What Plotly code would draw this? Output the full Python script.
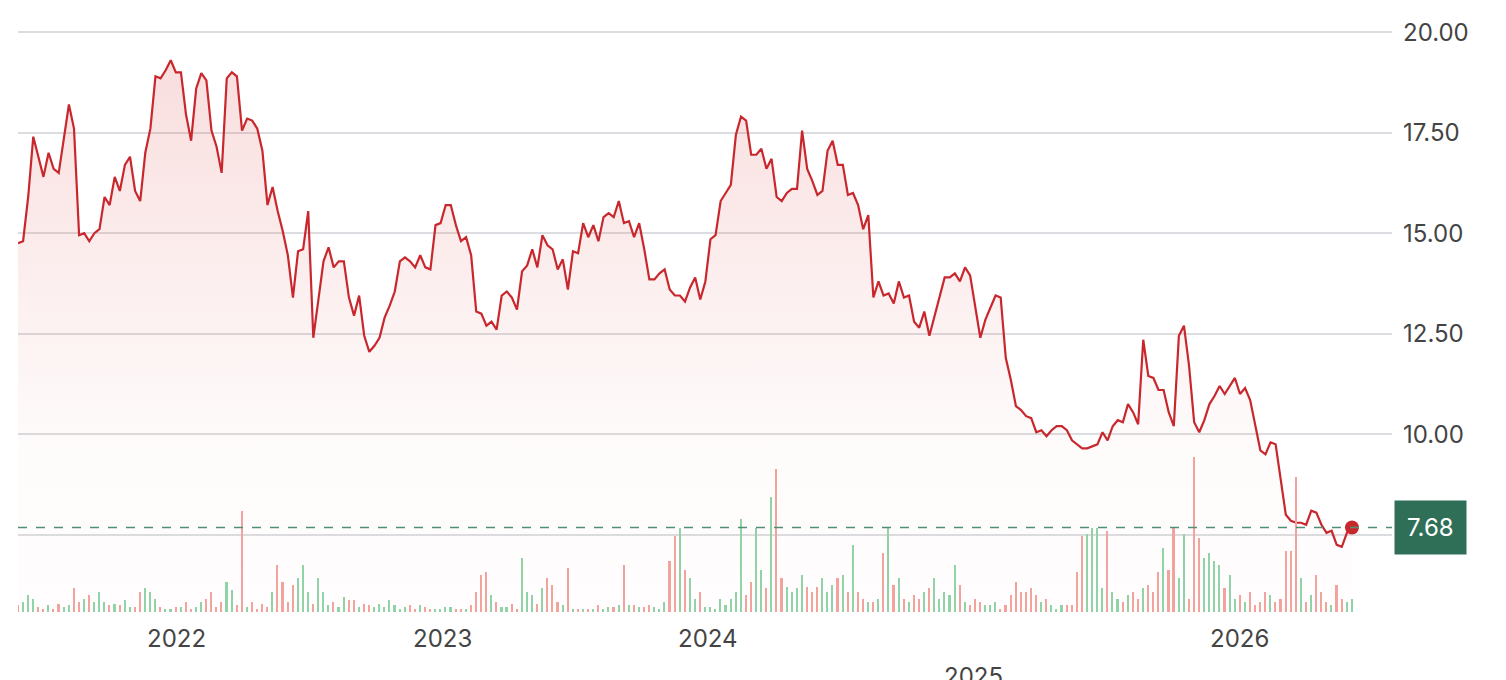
import pandas as pd
import plotly.graph_objects as go

price = [14.75, 14.8, 15.9, 17.4, 16.9, 16.4, 17.0, 16.6, 16.5, 17.4, 18.2, 17.6, 14.95, 15.0, 14.8, 15.0, 15.1, 15.9, 15.7, 16.4,
         16.05, 16.7, 16.9, 16.05, 15.8, 17.0, 17.6, 18.9, 18.85, 19.05, 19.3, 19.0, 19.0, 17.95, 17.3, 18.6, 18.98, 18.8, 17.55, 17.15,
         16.5, 18.85, 19.0, 18.9, 17.55, 17.85, 17.8, 17.6, 17.05, 15.7, 16.15, 15.55, 15.05, 14.45, 13.4, 14.55, 14.6, 15.55, 12.4, 13.35,
         14.3, 14.65, 14.15, 14.3, 14.3, 13.4, 12.95, 13.45, 12.45, 12.05, 12.2, 12.4, 12.9, 13.2, 13.55, 14.3, 14.4, 14.3, 14.15, 14.45,
         14.15, 14.1, 15.2, 15.25, 15.7, 15.7, 15.2, 14.8, 14.9, 14.45, 13.05, 13.0, 12.7, 12.8, 12.6, 13.45, 13.55, 13.4, 13.1, 14.05,
         14.2, 14.6, 14.15, 14.95, 14.7, 14.6, 14.1, 14.35, 13.6, 14.55, 14.5, 15.25, 14.9, 15.2, 14.8, 15.4, 15.5, 15.4, 15.8, 15.25,
         15.3, 14.9, 15.25, 14.6, 13.85, 13.85, 14.0, 14.1, 13.6, 13.45, 13.45, 13.3, 13.65, 13.9, 13.35, 13.8, 14.85, 14.95, 15.8, 16.0,
         16.2, 17.45, 17.9, 17.8, 16.95, 16.95, 17.1, 16.6, 16.85, 15.9, 15.8, 16.0, 16.1, 16.1, 17.55, 16.6, 16.3, 15.95, 16.05, 17.05,
         17.3, 16.7, 16.7, 15.95, 16.0, 15.7, 15.1, 15.45, 13.4, 13.8, 13.45, 13.5, 13.25, 13.8, 13.4, 13.45, 12.8, 12.65, 13.05, 12.45,
         12.95, 13.45, 13.9, 13.9, 14.0, 13.8, 14.15, 13.95, 13.2, 12.4, 12.85, 13.15, 13.45, 13.4, 11.9, 11.35, 10.7, 10.6, 10.45, 10.4,
         10.05, 10.1, 9.95, 10.1, 10.2, 10.2, 10.1, 9.85, 9.75, 9.65, 9.65, 9.7, 9.75, 10.05, 9.85, 10.2, 10.35, 10.3, 10.75, 10.55,
         10.25, 12.35, 11.45, 11.4, 11.1, 11.1, 10.55, 10.2, 12.45, 12.7, 11.7, 10.3, 10.05, 10.35, 10.75, 10.95, 11.2, 11.0, 11.2, 11.4,
         11.0, 11.15, 10.85, 10.2, 9.6, 9.5, 9.8, 9.75, 8.85, 8.0, 7.85, 7.8, 7.8, 7.75, 8.1, 8.05, 7.75, 7.55, 7.6, 7.25,
         7.2, 7.55, 7.68]

volume = [4, 6, 10, 8, 3, 2, 4, 2, 5, 3, 4, 14, 6, 8, 10, 6, 12, 6, 4, 5,
          4, 7, 3, 3, 12, 14, 12, 8, 3, 2, 2, 3, 3, 6, 2, 3, 6, 8, 12, 3,
          6, 18, 13, 4, 60, 3, 6, 2, 5, 3, 12, 28, 18, 6, 16, 20, 28, 12, 5, 20,
          12, 4, 6, 3, 9, 7, 7, 3, 5, 4, 3, 5, 3, 7, 4, 2, 3, 4, 2, 4,
          3, 2, 2, 2, 3, 3, 2, 2, 2, 4, 12, 22, 24, 10, 6, 3, 3, 5, 2, 32,
          12, 10, 5, 14, 20, 16, 6, 4, 26, 2, 2, 2, 2, 2, 4, 2, 3, 3, 4, 28,
          4, 4, 3, 3, 4, 3, 2, 6, 30, 45, 50, 25, 20, 8, 12, 3, 3, 2, 8, 4,
          8, 12, 55, 10, 18, 50, 25, 14, 68, 85, 20, 15, 12, 14, 22, 15, 12, 15, 20, 12,
          16, 20, 22, 12, 40, 12, 8, 6, 6, 8, 35, 50, 16, 20, 8, 6, 10, 8, 12, 14,
          20, 8, 12, 10, 28, 16, 6, 4, 8, 6, 4, 4, 6, 2, 4, 10, 18, 12, 12, 14,
          10, 6, 8, 4, 2, 4, 4, 4, 24, 45, 46, 50, 50, 14, 48, 12, 8, 6, 10, 12,
          8, 14, 16, 12, 24, 38, 25, 50, 20, 46, 8, 92, 44, 32, 35, 30, 28, 14, 22, 8,
          10, 6, 12, 4, 6, 12, 10, 6, 8, 36, 36, 80, 20, 6, 10, 22, 12, 6, 4, 16,
          8, 6, 8, 16, 20, 2]

years = ["2022", "2023", "2024", "2025", "2026"]
last_price = 7.68

dates = pd.date_range("2021-05-28", periods=len(price), freq="7D")
n = min(len(volume), len(price))
vdates = dates[:n]
vol = volume[:n]
vcolors = ["#8fd3a6" if i > 0 and price[i] >= price[i - 1] else "#f2a39b" for i in range(n)]

RED = "#c8282d"
GREEN = "#2f6f57"

fig = go.Figure()
fig.add_trace(go.Bar(x=vdates, y=vol, marker_color=vcolors, marker_line_width=0,
                     width=2.2 * 86400000, yaxis="y2", hoverinfo="skip"))
fig.add_trace(go.Scatter(
    x=dates, y=price, mode="lines", line=dict(color=RED, width=2.2),
    fill="tozeroy",
    fillgradient=dict(type="vertical",
                      colorscale=[[0, "rgba(220,60,60,0)"], [0.5, "rgba(220,60,60,0.02)"],
                                  [1, "rgba(220,60,60,0.17)"]]),
))
fig.add_trace(go.Scatter(x=[dates[-1]], y=[price[-1]], mode="markers",
                         marker=dict(color=RED, size=14)))
fig.add_hline(y=last_price, line=dict(color="#4f8f73", width=1.6, dash="dash"))

fig.add_annotation(x=1.0, xref="paper", y=last_price, yref="y", text=f"{last_price:.2f}",
                   xanchor="left", xshift=2, showarrow=False, bgcolor=GREEN,
                   font=dict(color="white", size=24, family="Inter"),
                   borderpad=12)

for i, yr in enumerate(years):
    fig.add_annotation(x=pd.Timestamp(f"{yr}-01-01"), xref="x", y=0, yref="paper",
                       yanchor="top", yshift=-10 if yr != "2025" else -48,
                       text=yr, showarrow=False,
                       font=dict(size=24, color="#444", family="Inter"))

fig.update_layout(
    width=1506, height=680, showlegend=False,
    plot_bgcolor="white", paper_bgcolor="white",
    margin=dict(l=10, r=122, t=2, b=76),
    bargap=0,
    xaxis=dict(range=[dates[0], pd.Timestamp("2026-07-30")], showgrid=False,
               showticklabels=False, zeroline=False),
    yaxis=dict(side="right", range=[5.58, 20.55], tickvals=[7.5, 10, 12.5, 15, 17.5, 20],
               ticktext=["", "10.00", "12.50", "15.00", "17.50", "20.00"],
               gridcolor="#dcdde0", gridwidth=1.5, zeroline=False, ticklabelstandoff=10,
               tickfont=dict(size=24, color="#444", family="Inter")),
    yaxis2=dict(overlaying="y", domain=[0, 1], range=[0, 357], visible=False),
)

fig.write_html("out.html")
